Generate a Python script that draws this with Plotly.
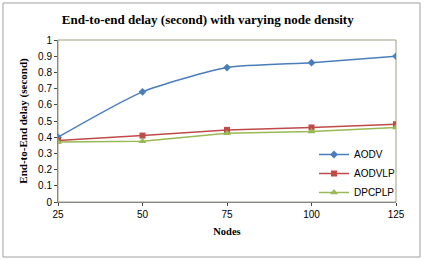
import plotly.graph_objects as go

nodes = [25, 50, 75, 100, 125]
aodv = [0.40, 0.68, 0.83, 0.86, 0.90]
aodvlp = [0.38, 0.41, 0.445, 0.46, 0.48]
dpcplp = [0.37, 0.375, 0.425, 0.435, 0.46]
y_ticks = [0, 0.1, 0.2, 0.3, 0.4, 0.5, 0.6, 0.7, 0.8, 0.9, 1]
y_tick_text = ["0", "0.1", "0.2", "0.3", "0.4", "0.5", "0.6", "0.7", "0.8", "0.9", "1"]

L, R, T, B = 58, 28, 40, 58
W, H = 424, 260
pw, ph = W - L - R, H - T - B

def px(x):
    return (x - L) / pw

def py(y):
    return (H - B - y) / ph

fig = go.Figure()
fig.add_trace(go.Scatter(x=nodes, y=aodv, name="AODV", mode="lines+markers",
                         line=dict(color="#4A7EBB", width=1.5, shape="spline", smoothing=0.6),
                         marker=dict(symbol="diamond", size=6, color="#4A7EBB")))
fig.add_trace(go.Scatter(x=nodes, y=aodvlp, name="AODVLP", mode="lines+markers",
                         line=dict(color="#BE4B48", width=1.5),
                         marker=dict(symbol="square", size=6, color="#BE4B48")))
fig.add_trace(go.Scatter(x=nodes, y=dpcplp, name="DPCPLP", mode="lines+markers",
                         line=dict(color="#98B954", width=1.5),
                         marker=dict(symbol="triangle-up", size=7, color="#98B954")))

fig.update_layout(
    width=W, height=H,
    margin=dict(l=L, r=R, t=T, b=B),
    paper_bgcolor="white", plot_bgcolor="white",
    title=dict(text="<b>End-to-end delay (second) with varying node density</b>",
               x=0.49, xanchor="center", y=1 - 19 / H, yanchor="middle",
               font=dict(family="Liberation Serif", size=13, color="black")),
    xaxis=dict(range=[25, 125], tickvals=nodes, ticks="outside", ticklen=3,
               showgrid=False, zeroline=False, showline=True, linecolor="#868686",
               mirror=False, tickfont=dict(family="Liberation Sans", size=10, color="black"),
               title=dict(text="<b>Nodes</b>", standoff=8,
                          font=dict(family="Liberation Serif", size=10.5, color="black"))),
    yaxis=dict(range=[0, 1], tickvals=y_ticks, ticktext=y_tick_text, ticks="outside", ticklen=3,
               showgrid=False, zeroline=False, showline=True, linecolor="#868686",
               tickfont=dict(family="Liberation Sans", size=10, color="black"),
               title=dict(text="<b>End-to-End delay (second)</b>", standoff=8,
                          font=dict(family="Liberation Serif", size=11, color="black"))),
    legend=dict(x=px(314), y=py(140), xanchor="left", yanchor="top",
                bgcolor="rgba(0,0,0,0)", font=dict(family="Liberation Sans", size=10, color="black"),
                tracegroupgap=0, itemwidth=30),
    showlegend=True,
)
# plot area box (top and right)
fig.add_shape(type="rect", xref="paper", yref="paper", x0=0, y0=0, x1=1, y1=1,
              line=dict(color="#A0A080", width=1), layer="below")
# outer chart frame
fig.add_shape(type="rect", xref="paper", yref="paper", x0=px(3), y0=py(257), x1=px(420), y1=py(3),
              line=dict(color="#A0A0A0", width=1))

fig.write_html("out.html")
